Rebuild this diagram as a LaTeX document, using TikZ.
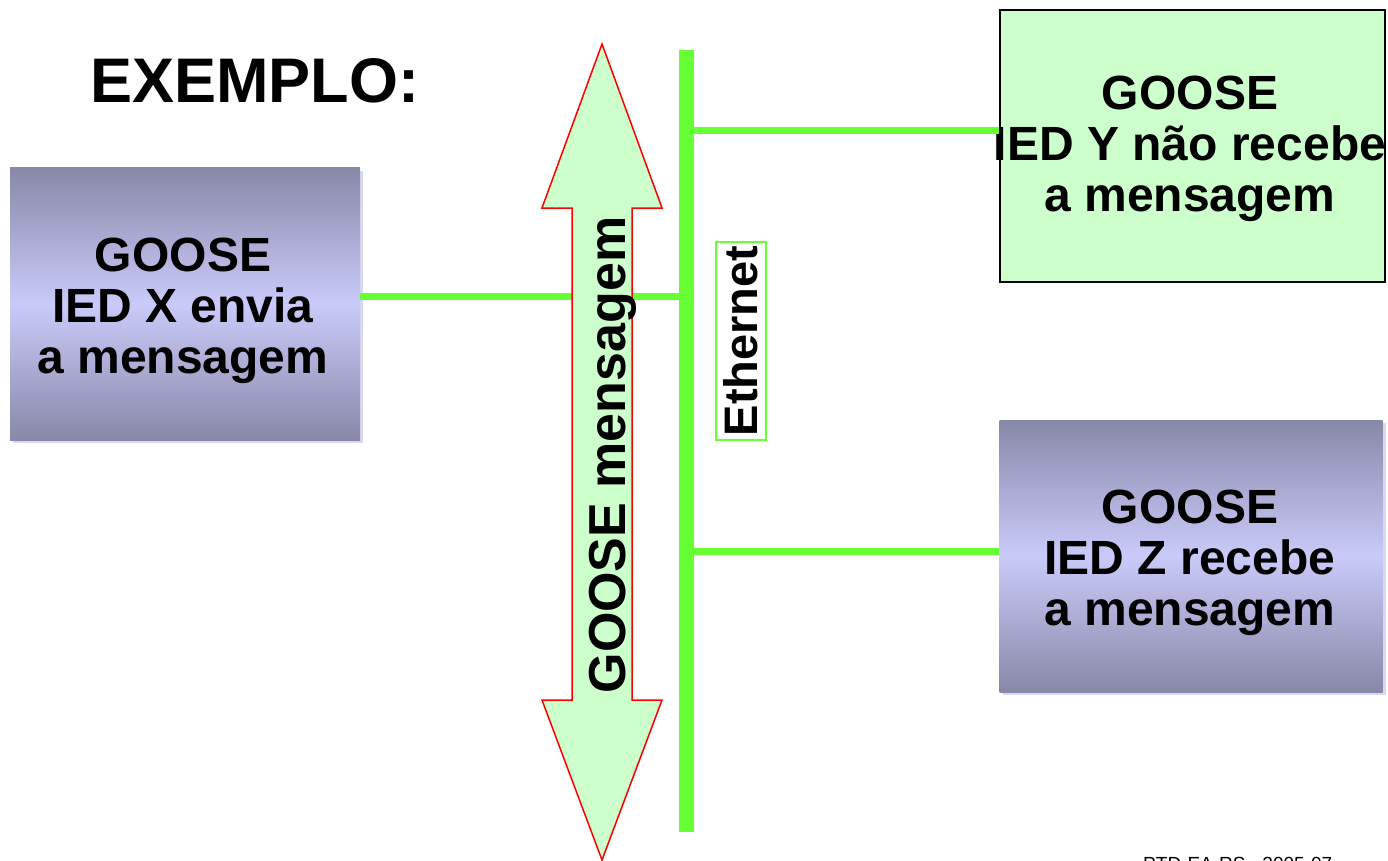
\documentclass[tikz,border=0pt]{standalone}
\usepackage{fontspec}
\setmainfont{Liberation Sans}
\definecolor{bus}{HTML}{66FF33}
\definecolor{lgreen}{HTML}{CCFFCC}
\definecolor{darkv}{HTML}{8888A8}
\definecolor{lightv}{HTML}{CACAFA}
\definecolor{shadowv}{HTML}{D8D8F2}
\tikzset{
  gradbox/.style={minimum width=350, minimum height=272, inner sep=0, top color=darkv, bottom color=darkv, middle color=lightv},
  shadowbox/.style={fill=shadowv, minimum width=350, minimum height=272, inner sep=0},
  greenbox/.style={draw=black, line width=2, fill=lgreen, minimum width=385, minimum height=272, inner sep=0},
  boxtext/.style={font=\bfseries\fontsize{48}{51}\selectfont, align=center, inner sep=0},
  branch/.style={draw=bus, line width=7},
  busline/.style={draw=bus, line width=15},
}
\begin{document}
\begin{tikzpicture}[x=1pt,y=-1pt]
\useasboundingbox (0,0) rectangle (1388,861);
\clip (0,0) rectangle (1388,861);
% title
\node[anchor=base west, inner sep=0, font=\bfseries\fontsize{63}{70}\selectfont] (title) at (90,103) {EXEMPLO:};
% boxes
\node[shadowbox] (Xs) at (188,307) {};
\node[gradbox] (X) at (185,304) {};
\node[boxtext] (Xt) at (183,311) {GOOSE\\IED X envia\\a mensagem};
\node[greenbox, minimum width=385] (Y) at (1192,146) {};
\node[boxtext] (Yt) at (1190,149) {GOOSE\\IED Y não recebe\\a mensagem};
\node[shadowbox, minimum width=383] (Zs) at (1194,559) {};
\node[gradbox, minimum width=383] (Z) at (1191,556) {};
\node[boxtext] (Zt) at (1190,563) {GOOSE\\IED Z recebe\\a mensagem};
% bus and branches
\coordinate (btop) at (686,50);
\coordinate (bbot) at (686,832);
\coordinate (jx) at (686,296);
\coordinate (jy) at (686,131);
\coordinate (jz) at (686,551);
\draw[branch] (jx) -- (jx -| X.east);
\draw[branch] (jy) -- (jy -| Y.west);
\draw[branch] (jz) -- (jz -| Z.west);
\draw[busline] (btop) -- (bbot);
% double arrow
\draw[red, line width=1.5, fill=lgreen, line join=miter]
  (602,44) -- (662,208) -- (632,208) -- (632,700) -- (662,700) -- (602,860)
  -- (542,700) -- (572,700) -- (572,208) -- (542,208) -- cycle;
\node[rotate=90, inner sep=0, font=\bfseries\fontsize{52}{56}\selectfont] (msg) at (613,455) {GOOSE mensagem};
% ethernet label
\node[rotate=90, draw=bus, line width=1.2, fill=white, minimum width=198, minimum height=50, inner sep=0, font=\bfseries\fontsize{47}{50}\selectfont] (eth) at (741,341) {Ethernet};
% footer
\node[anchor=base west, inner sep=0, font=\fontsize{19}{22}\selectfont] (foot) at (1143,870) {PTD-EA-RS - 2005-07};
\end{tikzpicture}
\end{document}
